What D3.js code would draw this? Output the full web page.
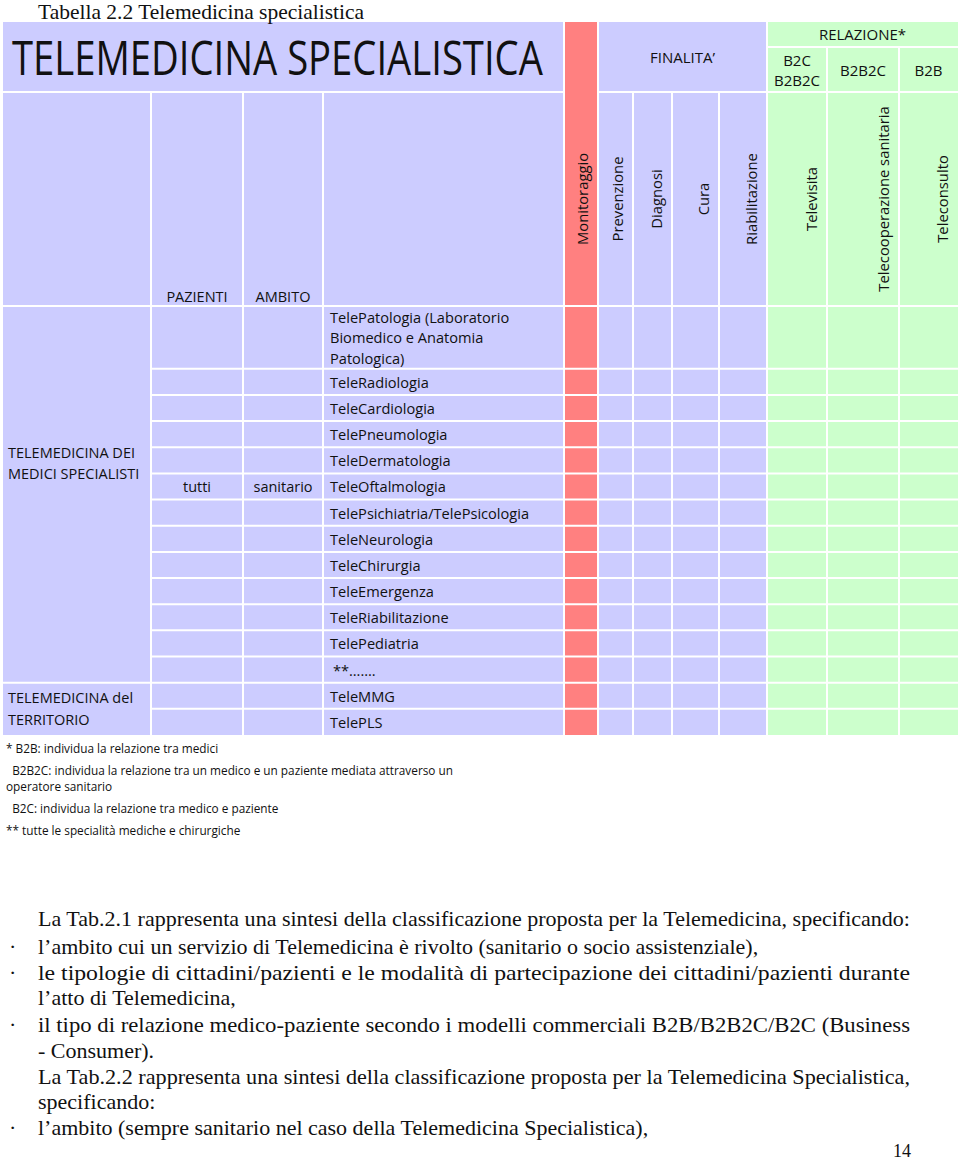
<!DOCTYPE html>
<html>
<head>
<meta charset="utf-8">
<script src="https://cdn.jsdelivr.net/npm/d3@7"></script>
<style>
  body { margin: 0; background: #fff; }
  svg text { fill: #111; }
  .cal { font-family: 'Open Sans', sans-serif; }
  .tnr { font-family: 'Liberation Serif', 'Times New Roman', serif; }
</style>
</head>
<body>
<script>
// dati della tabella
const didascalia = 'Tabella 2.2 Telemedicina specialistica'
const titolo = 'TELEMEDICINA SPECIALISTICA'
const finalitaTitolo = 'FINALITA’'
const relazioneTitolo = 'RELAZIONE*'
const monitoraggio = 'Monitoraggio'
const finalita = ['Prevenzione', 'Diagnosi', 'Cura', 'Riabilitazione']
const modelli = [['B2C', 'B2B2C'], ['B2B2C'], ['B2B']]
const relazioni = ['Televisita', 'Telecooperazione sanitaria', 'Teleconsulto']
const intestazioni = ['PAZIENTI', 'AMBITO']
const servizi = [
    ['TelePatologia (Laboratorio', 'Biomedico e Anatomia', 'Patologica)'],
    ['TeleRadiologia'],
    ['TeleCardiologia'],
    ['TelePneumologia'],
    ['TeleDermatologia'],
    ['TeleOftalmologia'],
    ['TelePsichiatria/TelePsicologia'],
    ['TeleNeurologia'],
    ['TeleChirurgia'],
    ['TeleEmergenza'],
    ['TeleRiabilitazione'],
    ['TelePediatria'],
    ['**…….'],
    ['TeleMMG'],
    ['TelePLS']
]
const gruppi = ['TELEMEDICINA DEI|MEDICI SPECIALISTI', 'TELEMEDICINA del|TERRITORIO']
const righePerGruppo = [13, 2]
const pazienti = 'tutti'
const ambito = 'sanitario'
const rigaPazienti = 5
const note = [
    '* B2B: individua la relazione tra medici',
    '  B2B2C: individua la relazione tra un medico e un paziente mediata attraverso un',
    'operatore sanitario',
    '  B2C: individua la relazione tra medico e paziente',
    '** tutte le specialità mediche e chirurgiche'
]
const paragrafo = [
    ['', 'La Tab.2.1 rappresenta una sintesi della classificazione proposta per la Telemedicina, specificando:', true],
    ['·', 'l’ambito cui un servizio di Telemedicina è rivolto (sanitario o socio assistenziale),', false],
    ['·', 'le tipologie di cittadini/pazienti e le modalità di partecipazione dei cittadini/pazienti durante', true],
    ['', 'l’atto di Telemedicina,', false],
    ['·', 'il tipo di relazione medico-paziente secondo i modelli commerciali B2B/B2B2C/B2C (Business', true],
    ['', '- Consumer).', false],
    ['', 'La Tab.2.2 rappresenta una sintesi della classificazione proposta per la Telemedicina Specialistica,', true],
    ['', 'specificando:', false],
    ['·', 'l’ambito (sempre sanitario nel caso della Telemedicina Specialistica),', false]
]
const pagina = '14'

// colori
const VIOLA = '#ccccff', ROSSO = '#ff8080', VERDE = '#ccffcc'

// layout
const W = 960, H = 1163
const X0 = 3, TOP = 22, MID = 47, HEAD = 92, BODY = 306, BOTTOM = 735
const colonne = [
    { k: 'gruppo', w: 148, c: VIOLA },
    { k: 'paz', w: 92, c: VIOLA },
    { k: 'amb', w: 80, c: VIOLA },
    { k: 'serv', w: 241, c: VIOLA },
    { k: 'mon', w: 34, c: ROSSO },
    { k: 'f0', w: 35, c: VIOLA },
    { k: 'f1', w: 39, c: VIOLA },
    { k: 'f2', w: 47, c: VIOLA },
    { k: 'f3', w: 48, c: VIOLA },
    { k: 'r0', w: 60, c: VERDE },
    { k: 'r1', w: 72, c: VERDE },
    { k: 'r2', w: 59, c: VERDE }
]
let acc = X0
colonne.forEach(d => { d.x0 = acc; acc += d.w; d.x1 = acc })
const col = k => colonne.find(d => d.k === k)

// altezza righe in unità (la prima riga ha tre linee di testo)
const unita = servizi.map((d, i) => i === 0 ? 2.4 : 1)
const cum = [0, ...d3.cumsum(unita)]
const y = d3.scaleLinear().domain([0, d3.sum(unita)]).range([BODY, BOTTOM])

const svg = d3.select('body').append('svg')
    .attr('width', W)
    .attr('height', H)

// sfondo colonne
svg.selectAll('rect.col')
    .data(colonne)
    .enter()
    .append('rect')
    .attr('class', 'col')
    .attr('x', d => d.x0)
    .attr('y', TOP)
    .attr('width', d => d.w)
    .attr('height', BOTTOM - TOP)
    .attr('fill', d => d.c)

// linee bianche
let linee = []
const right = col('r2').x1
linee.push([X0, HEAD, col('serv').x1, HEAD])
linee.push([col('f0').x0, HEAD, right, HEAD])
linee.push([col('r0').x0, MID, right, MID])
colonne.slice(1).forEach(d => {
    let y0 = ['mon', 'f0', 'r0'].includes(d.k) ? TOP : (['r1', 'r2'].includes(d.k) ? MID : HEAD)
    linee.push([d.x0, y0, d.x0, BOTTOM])
})
linee.push([X0, BODY, right, BODY])
cum.slice(1, -1).forEach((c, i) => {
    let bordoGruppo = (i + 1) === righePerGruppo[0]
    linee.push([bordoGruppo ? X0 : col('paz').x0, y(c), right, y(c)])
})
svg.selectAll('line')
    .data(linee)
    .enter()
    .append('line')
    .attr('x1', d => d[0]).attr('y1', d => d[1])
    .attr('x2', d => d[2]).attr('y2', d => d[3])
    .attr('stroke', '#fff')
    .attr('stroke-width', 2)

// didascalia
svg.append('text')
    .attr('class', 'tnr')
    .attr('x', 38)
    .attr('y', 18.5)
    .attr('font-size', 21.5)
    .text(didascalia)

// titolo (compresso in orizzontale come nell'originale)
let tit = svg.append('text')
    .attr('class', 'cal')
    .attr('x', 0)
    .attr('y', 0)
    .attr('dominant-baseline', 'central')
    .attr('font-size', 47)
    .text(titolo)
let sx = 531 / tit.node().getComputedTextLength()
tit.attr('transform', 'translate(12,57) scale(' + sx + ',1)')

const fin = [col('f0').x0, col('f3').x1]
svg.append('text')
    .attr('class', 'cal')
    .attr('x', (fin[0] + fin[1]) / 2)
    .attr('y', 57)
    .attr('text-anchor', 'middle')
    .attr('dominant-baseline', 'central')
    .attr('font-size', 15)
    .text(finalitaTitolo)

svg.append('text')
    .attr('class', 'cal')
    .attr('x', (col('r0').x0 + right) / 2)
    .attr('y', 34)
    .attr('text-anchor', 'middle')
    .attr('dominant-baseline', 'central')
    .attr('font-size', 15)
    .text(relazioneTitolo)

// modelli B2C / B2B2C / B2B
let mod = svg.selectAll('text.mod')
    .data(modelli)
    .enter()
    .append('text')
    .attr('class', 'cal mod')
    .attr('font-size', 15)
    .attr('text-anchor', 'middle')
mod.selectAll('tspan')
    .data((d, i) => d.map(t => ({ t, i, n: d.length })))
    .enter()
    .append('tspan')
    .attr('x', d => { let c = col('r' + d.i); return (c.x0 + c.x1) / 2 })
    .attr('y', (d, j) => 70 + (j - (d.n - 1) / 2) * 20)
    .attr('dominant-baseline', 'central')
    .text(d => d.t)

// etichette ruotate
const ruotate = [[col('mon'), monitoraggio]]
    .concat(finalita.map((t, i) => [col('f' + i), t]))
    .concat(relazioni.map((t, i) => [col('r' + i), t]))
svg.selectAll('text.rot')
    .data(ruotate)
    .enter()
    .append('text')
    .attr('class', 'cal rot')
    .attr('transform', d => 'translate(' + (d[0].x1 - 16) + ',199) rotate(-90)')
    .attr('text-anchor', 'middle')
    .attr('dominant-baseline', 'central')
    .attr('font-size', 14.8)
    .text(d => d[1])

// PAZIENTI / AMBITO
svg.selectAll('text.int')
    .data(intestazioni)
    .enter()
    .append('text')
    .attr('class', 'cal int')
    .attr('x', (d, i) => { let c = colonne[i + 1]; return (c.x0 + c.x1) / 2 })
    .attr('y', 296)
    .attr('text-anchor', 'middle')
    .attr('dominant-baseline', 'central')
    .attr('font-size', 14.5)
    .text(d => d)

// servizi
let serv = svg.selectAll('text.serv')
    .data(servizi)
    .enter()
    .append('text')
    .attr('class', 'cal serv')
    .attr('font-size', 14.6)
serv.selectAll('tspan')
    .data((d, i) => d.map(t => ({ t, i, n: d.length })))
    .enter()
    .append('tspan')
    .attr('x', d => col('serv').x0 + (d.t.startsWith('**') ? 10 : 7))
    .attr('y', (d, j) => (y(cum[d.i]) + y(cum[d.i + 1])) / 2 + (j - (d.n - 1) / 2) * 20.5)
    .attr('dominant-baseline', 'central')
    .text(d => d.t)

// tutti / sanitario
const cy = (y(cum[rigaPazienti]) + y(cum[rigaPazienti + 1])) / 2
svg.selectAll('text.pa')
    .data([pazienti, ambito])
    .enter()
    .append('text')
    .attr('class', 'cal pa')
    .attr('x', (d, i) => { let c = colonne[i + 1]; return (c.x0 + c.x1) / 2 })
    .attr('y', cy)
    .attr('text-anchor', 'middle')
    .attr('dominant-baseline', 'central')
    .attr('font-size', 14.5)
    .text(d => d)

// gruppi
const gruppiY = [463, 708.5]
let gr = svg.selectAll('text.gr')
    .data(gruppi)
    .enter()
    .append('text')
    .attr('class', 'cal gr')
    .attr('font-size', 14.5)
gr.selectAll('tspan')
    .data((d, i) => d.split('|').map(t => ({ t, i })))
    .enter()
    .append('tspan')
    .attr('x', 8)
    .attr('y', (d, j) => gruppiY[d.i] + (j - 0.5) * 21.5)
    .attr('dominant-baseline', 'central')
    .text(d => d.t)

// note
const noteY = [748, 770, 786, 808, 830]
svg.selectAll('text.nota')
    .data(note)
    .enter()
    .append('text')
    .attr('class', 'cal nota')
    .attr('x', 6)
    .attr('y', (d, i) => noteY[i])
    .attr('dominant-baseline', 'central')
    .attr('font-size', 11.8)
    .style('white-space', 'pre')
    .text(d => d)

// paragrafo
const parY = [918, 946, 972, 997, 1024, 1050, 1076, 1101, 1127]
let par = svg.selectAll('g.par')
    .data(paragrafo)
    .enter()
    .append('g')
    .attr('class', 'par')
par.append('text')
    .attr('class', 'tnr')
    .attr('x', 9)
    .attr('y', (d, i) => parY[i])
    .attr('dominant-baseline', 'central')
    .attr('font-size', 22)
    .text(d => d[0])
par.append('text')
    .attr('class', 'tnr')
    .attr('x', 38)
    .attr('y', (d, i) => parY[i])
    .attr('dominant-baseline', 'central')
    .attr('font-size', 22)
    .each(function (d) {
        if (d[2]) d3.select(this).attr('textLength', 872).attr('lengthAdjust', 'spacingAndGlyphs')
    })
    .text(d => d[1])

svg.append('text')
    .attr('class', 'tnr')
    .attr('x', 911)
    .attr('y', 1151)
    .attr('text-anchor', 'end')
    .attr('dominant-baseline', 'central')
    .attr('font-size', 18)
    .text(pagina)
</script>
</body>
</html>
